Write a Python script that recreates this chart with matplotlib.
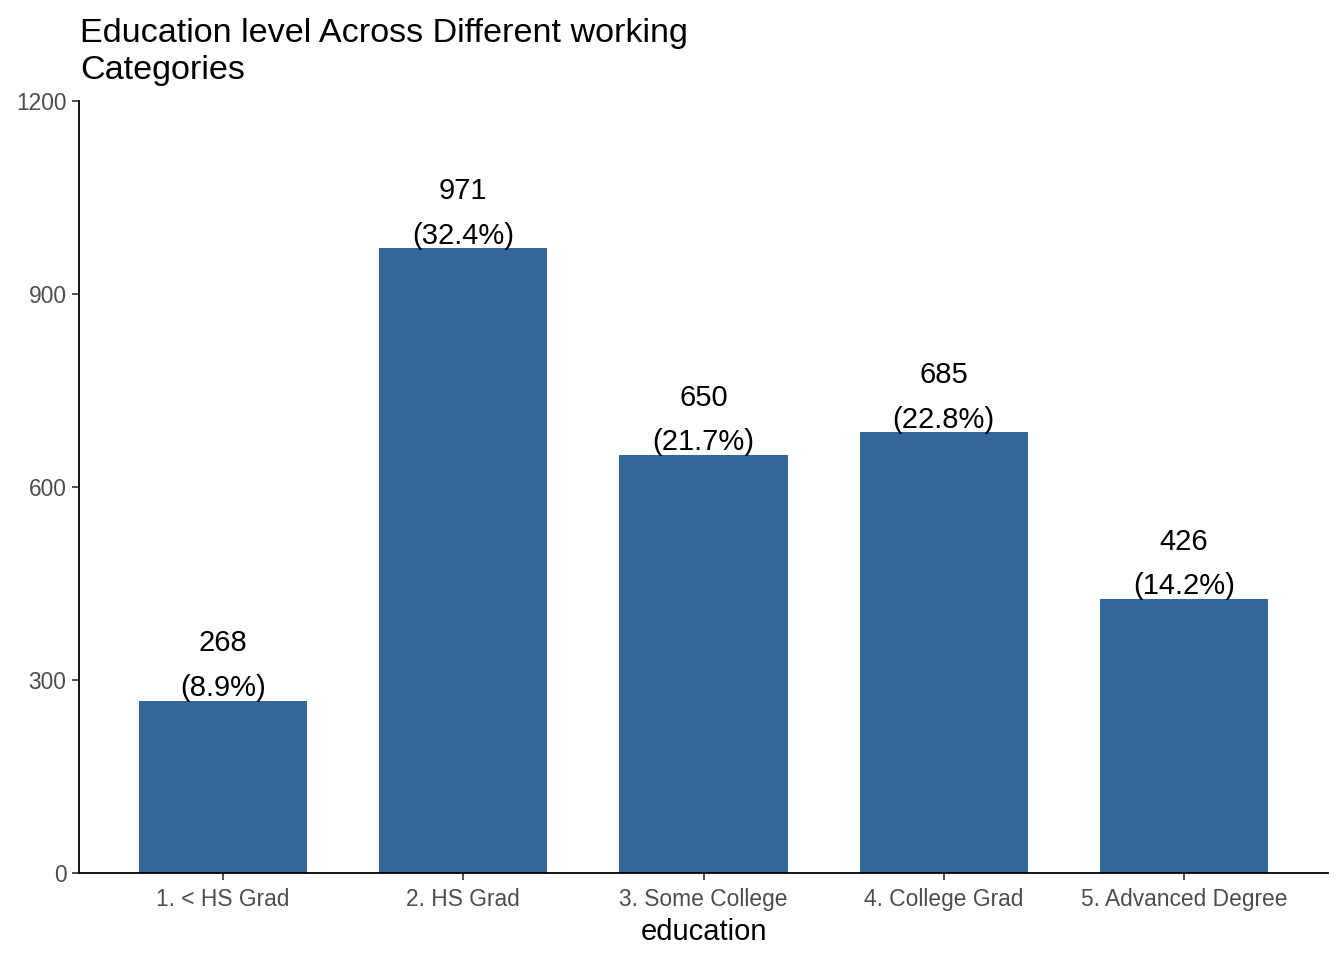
import matplotlib
matplotlib.use("Agg")
import matplotlib.pyplot as plt

categories = ["1. < HS Grad", "2. HS Grad", "3. Some College", "4. College Grad", "5. Advanced Degree"]
counts = [268, 971, 650, 685, 426]
percents = ["8.9%", "32.4%", "21.7%", "22.8%", "14.2%"]
yticks = [0, 300, 600, 900, 1200]

plt.rcParams['font.family'] = ['Liberation Sans', 'DejaVu Sans']

fig = plt.figure(figsize=(13.44, 9.6), dpi=100)
ax = fig.add_axes([79/1344, 87/960, (1328-79)/1344, (873-101)/960])

x = list(range(len(categories)))
ax.bar(x, counts, width=0.7, color="#336699")
for xi, c, p in zip(x, counts, percents):
    ax.text(xi, c - 2, f"{c}\n({p})", ha="center", va="bottom", fontsize=21,
            color="black", linespacing=1.75)

ax.set_xlim(-0.6, 4.6)
ax.set_ylim(0, 1200)
ax.set_xticks(x)
ax.set_xticklabels(categories)
ax.set_yticks(yticks)
ax.set_yticklabels([str(v) for v in yticks])
ax.tick_params(axis="both", colors="#333333", labelcolor="#4D4D4D", labelsize=16.4,
               length=5, width=1.2)
ax.tick_params(axis="x", pad=5.5)
ax.tick_params(axis="y", pad=4)
for s in ["top", "right"]:
    ax.spines[s].set_visible(False)
for s in ["left", "bottom"]:
    ax.spines[s].set_linewidth(1.3)
    ax.spines[s].set_color("black")
ax.set_xlabel("education", fontsize=21, color="black", labelpad=5)

fig.text(80/1344, 1 - 18/960, "Education level Across Different working\nCategories",
         ha="left", va="top", fontsize=24.6, color="black", linespacing=1.25)

fig.savefig("out.png", dpi=100, facecolor="white")
